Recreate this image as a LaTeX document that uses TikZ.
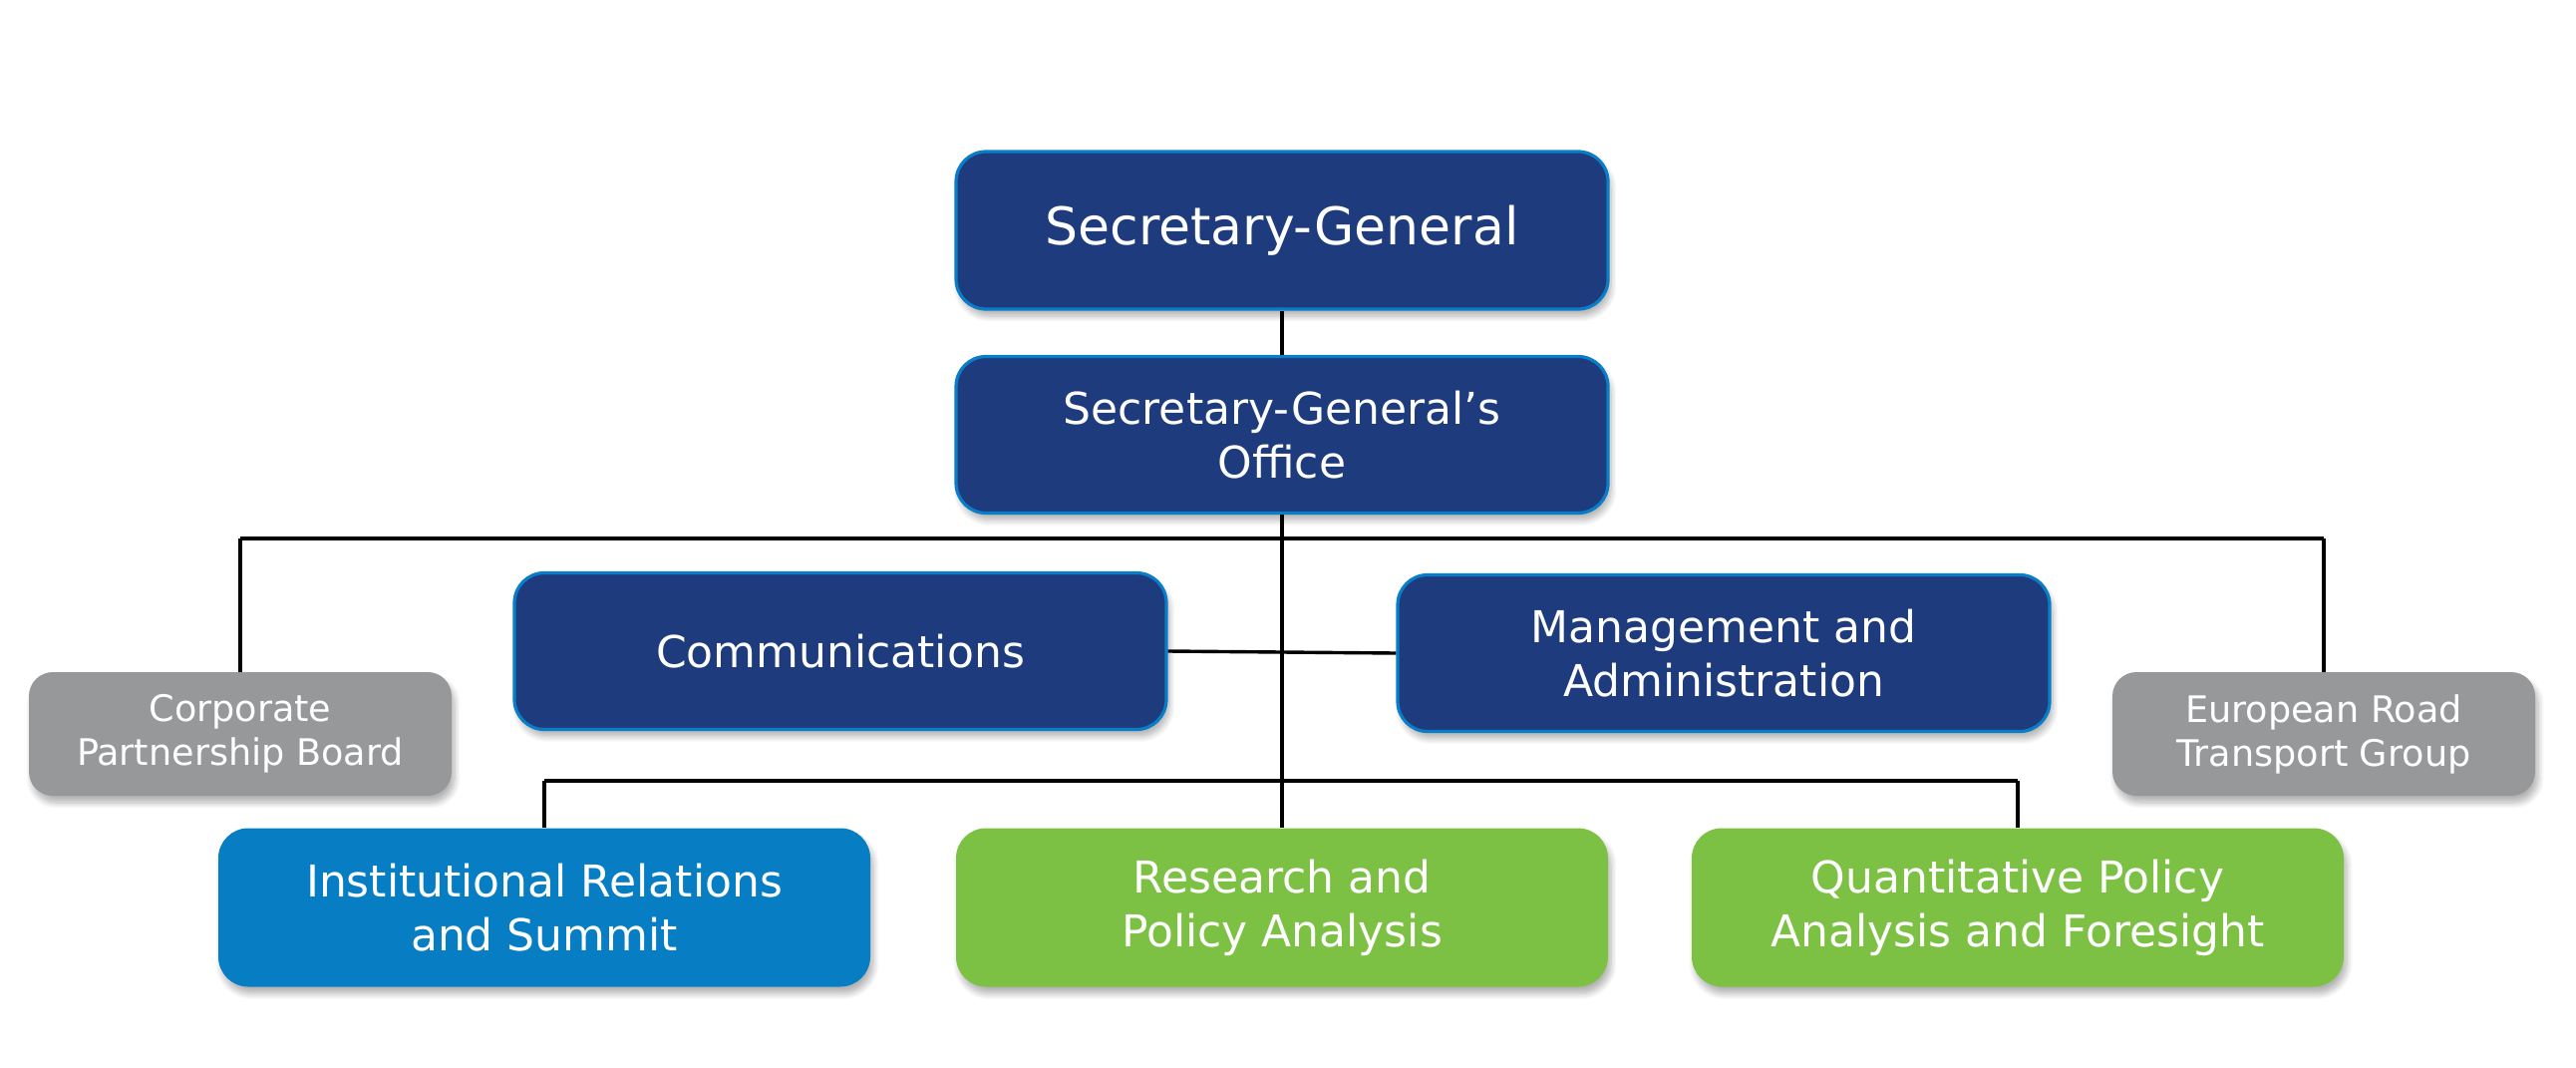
\documentclass[tikz,border=0pt]{standalone}
\usepackage{fontspec}
\setmainfont{DejaVu Sans}
\usetikzlibrary{shadows.blur}
\definecolor{navy}{HTML}{1E3C7D}
\definecolor{navyedge}{HTML}{0A7DC8}
\definecolor{instblue}{HTML}{077DC3}
\definecolor{leaf}{HTML}{7DC144}
\definecolor{stone}{HTML}{97989A}
\tikzset{
  box/.style={rounded corners=15pt, minimum width=327pt, minimum height=78.5pt,
    inner sep=0pt, align=center, text=white, font=\fontsize{22}{27}\selectfont,
    blur shadow={shadow xshift=1.5pt, shadow yshift=-3.5pt, shadow blur steps=8,
      shadow blur radius=3pt, shadow opacity=30}},
  darkbox/.style={box, fill=navy, draw=navyedge, line width=1.6pt},
  instbox/.style={box, fill=instblue},
  greenbox/.style={box, fill=leaf},
  greybox/.style={box, fill=stone, minimum width=212pt, minimum height=62pt,
    rounded corners=12pt, font=\fontsize{18.3}{22}\selectfont},
  link/.style={draw=black, line width=1.7pt}
}
\begin{document}
\begin{tikzpicture}[x=0.5pt,y=-0.5pt]
\useasboundingbox (0,0) rectangle (2584,1070);
% junction points of the two bars
\coordinate (barL) at (241,540);
\coordinate (barR) at (2331,540);
\coordinate (lowL) at (546,783);
\coordinate (lowR) at (2024,783);
% nodes
\node[darkbox, font=\fontsize{26}{31}\selectfont, minimum height=79pt] (sg) at (1286,231) {Secretary-General};
\node[darkbox] (office) at (1286,436) {Secretary-General’s\\Office};
\node[darkbox] (comm) at (843,653) {Communications};
\node[darkbox] (mgmt) at (1729,655) {Management and\\Administration};
\node[greybox] (corp) at (241,736) {Corporate\\Partnership Board};
\node[greybox] (euro) at (2331,736) {European Road\\Transport Group};
\node[instbox, minimum height=79.5pt] (inst) at (546,910) {Institutional Relations\\and Summit};
\node[greenbox, minimum height=79.5pt] (res) at (1286,910) {Research and\\Policy Analysis};
\node[greenbox, minimum height=79.5pt] (quant) at (2024,910) {Quantitative Policy\\Analysis and Foresight};
% connectors
\path[link] (sg.south) -- (office.north);
\path[link] (office.south) -- (res.north);
\path[link] (barL) -- (barR);
\path[link] (barL) -- (corp.north);
\path[link] (barR) -- (euro.north);
\path[link] (comm.east) -- (mgmt.west);
\path[link] (lowL) -- (lowR);
\path[link] (lowL) -- (inst.north);
\path[link] (lowR) -- (quant.north);
\end{tikzpicture}
\end{document}
